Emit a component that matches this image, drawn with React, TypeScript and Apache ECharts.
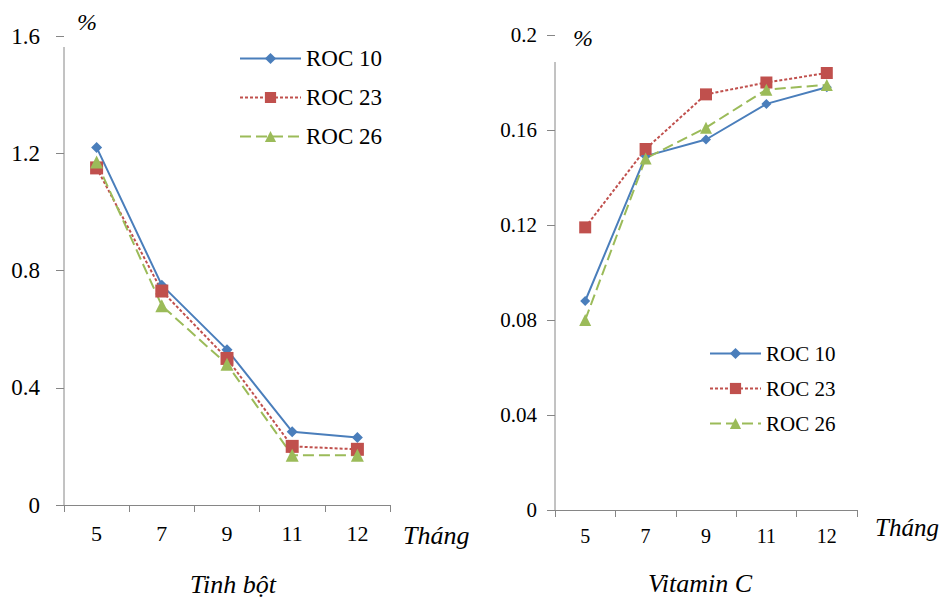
import React, { useEffect, useRef } from "react";
import * as echarts from "echarts";

const months = ["5", "7", "9", "11", "12"];
const seriesNames = ["ROC 10", "ROC 23", "ROC 26"];
const starchRoc10 = [1.22, 0.75, 0.53, 0.25, 0.23];
const starchRoc23 = [1.15, 0.73, 0.5, 0.2, 0.19];
const starchRoc26 = [1.17, 0.68, 0.48, 0.17, 0.17];
const vitcRoc10 = [0.088, 0.149, 0.156, 0.171, 0.178];
const vitcRoc23 = [0.119, 0.152, 0.175, 0.18, 0.184];
const vitcRoc26 = [0.08, 0.148, 0.161, 0.177, 0.179];
const titles = ["Tinh bột", "Vitamin C"];
const xAxisName = "Tháng";
const unitLabel = "%";

const FONT = "Liberation Serif";
const AXIS_COLOR = "#868686";
const COLORS = ["#4A7EBB", "#C0504D", "#9BBB59"];
const SYMBOLS = ["diamond", "rect", "triangle"];
const LINE_TYPES: any[] = ["solid", [3, 2], [11, 5]];

const G1 = { left: 64, top: 36, width: 326, height: 469 };
const G2 = { left: 555, top: 35, width: 302, height: 475 };

const CSS = `#chart-box svg text { font-family: "Liberation Serif", "Times New Roman", serif !important; }`;

export default function App() {
  const ref = useRef<HTMLDivElement>(null);
  useEffect(() => {
    if (!ref.current) return;
    const chart = echarts.init(ref.current, null, { renderer: "svg" });
    const mkSeries = (data: number[], i: number, gi: number, sizes: number[]) => ({
      type: "line",
      name: seriesNames[i],
      xAxisIndex: gi,
      yAxisIndex: gi,
      data,
      symbol: SYMBOLS[i],
      symbolSize: sizes[i],
      showSymbol: true,
      color: COLORS[i],
      itemStyle: { color: COLORS[i] },
      lineStyle: { color: COLORS[i], width: 2, type: LINE_TYPES[i] },
    });
    const xAxisBase = (gi: number, fs: number, margin: number) => ({
      type: "category",
      gridIndex: gi,
      data: months,
      boundaryGap: true,
      axisLine: { show: true, lineStyle: { color: AXIS_COLOR, width: 1 } },
      axisTick: { show: true, length: 7, lineStyle: { color: AXIS_COLOR } },
      axisLabel: { color: "#000", fontFamily: FONT, fontSize: fs, margin },
      splitLine: { show: false },
    });
    const fmt = (v: number) => String(+v.toFixed(2));
    const yAxisBase = (gi: number, max: number, interval: number, fs: number, margin: number) => ({
      type: "value",
      gridIndex: gi,
      min: 0,
      max,
      interval,
      axisLine: { show: false },
      axisTick: { show: true, length: 8, lineStyle: { color: AXIS_COLOR } },
      axisLabel: { color: "#000", fontFamily: FONT, fontSize: fs, margin, formatter: fmt },
      splitLine: { show: false },
    });
    const legendBase = (left: number, top: number, fs: number, w: number, gap: number) => ({
      orient: "vertical",
      left,
      top,
      itemWidth: w,
      itemHeight: 14,
      itemGap: gap,
      data: seriesNames,
      selectedMode: false,
      textStyle: { color: "#000", fontFamily: FONT, fontSize: fs },
    });
    const italic = (text: string, x: number, y: number, fs: number, align = "left") => ({
      type: "text",
      x,
      y,
      style: {
        text,
        fill: "#000",
        fontFamily: FONT,
        fontSize: fs,
        fontStyle: "italic",
        align,
        verticalAlign: "middle",
      },
    });
    chart.setOption({
      animation: false,
      grid: [
        { ...G1, containLabel: false },
        { ...G2, containLabel: false },
      ],
      xAxis: [xAxisBase(0, 22, 17), xAxisBase(1, 20, 16)],
      yAxis: [yAxisBase(0, 1.6, 0.4, 23, 24), yAxisBase(1, 0.2, 0.04, 21, 18)],
      legend: [
        legendBase(234, 42, 23, 61, 16),
        legendBase(704, 338, 21, 51, 14),
      ],
      series: [
        mkSeries(starchRoc10, 0, 0, [11, 12, 12]),
        mkSeries(starchRoc23, 1, 0, [11, 13, 12]),
        mkSeries(starchRoc26, 2, 0, [11, 13, 13]),
        mkSeries(vitcRoc10, 0, 1, [10, 11, 11]),
        mkSeries(vitcRoc23, 1, 1, [10, 12, 12]),
        mkSeries(vitcRoc26, 2, 1, [10, 12, 12]),
      ],
      graphic: [
        {
          type: "line",
          shape: { x1: G1.left, y1: G1.top + 11, x2: G1.left, y2: G1.top + G1.height },
          style: { stroke: AXIS_COLOR, lineWidth: 1 },
        },
        {
          type: "line",
          shape: { x1: G2.left, y1: G2.top + 27, x2: G2.left, y2: G2.top + G2.height },
          style: { stroke: AXIS_COLOR, lineWidth: 1 },
        },
        italic(unitLabel, 77, 22, 24),
        italic(unitLabel, 573, 38, 24),
        italic(xAxisName, 403, 535, 26),
        italic(xAxisName, 875, 527, 25),
        italic(titles[0], 233, 584, 26, "center"),
        italic(titles[1], 700, 583, 26, "center"),
      ],
    });
    return () => chart.dispose();
  }, []);
  return (
    <div id="chart-box">
      <style>{CSS}</style>
      <div
        ref={ref}
        style={{ position: "absolute", left: 0, top: 0, width: 942, height: 597 }}
      />
    </div>
  );
}
